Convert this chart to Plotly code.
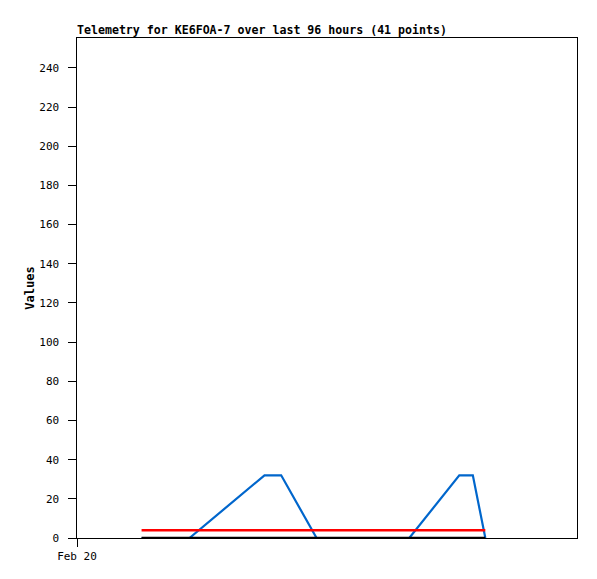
import plotly.graph_objects as go

# x values in hours after Feb 20 00:00
t_blue = [3.1, 5.4, 9.0, 9.8, 11.5, 15.95, 18.35, 19.0, 19.6]
v_blue = [0, 0, 32, 32, 0, 0, 32, 32, 0]
t_red = [3.1, 19.6]
v_red = [4, 4]
t_black = [3.1, 19.6]
v_black = [0, 0]
y_ticks = list(range(0, 241, 20))
x_tickvals = [0]
x_ticktext = ["Feb 20"]

fig = go.Figure()
fig.add_trace(go.Scatter(x=t_blue, y=v_blue, mode="lines",
                         line=dict(color="#0066cc", width=2.2), showlegend=False))
fig.add_trace(go.Scatter(x=t_red, y=v_red, mode="lines",
                         line=dict(color="#ff0000", width=2.5), showlegend=False))
fig.add_trace(go.Scatter(x=t_black, y=v_black, mode="lines",
                         line=dict(color="#000000", width=2.5), showlegend=False))

W, H = 589, 571
fig.update_layout(
    width=W, height=H,
    margin=dict(l=69, r=20, t=30, b=41),
    paper_bgcolor="white", plot_bgcolor="white",
    font=dict(family="DejaVu Sans Mono", size=11, color="black"),
    title=dict(text="<b>Telemetry for KE6FOA-7 over last 96 hours (41 points)</b>",
               x=69/W, xanchor="left", y=1-26/H, yanchor="bottom",
               font=dict(family="DejaVu Sans Mono", size=11.6)),
    xaxis=dict(range=[0, 24], tickvals=x_tickvals, ticktext=x_ticktext,
               showgrid=False, zeroline=False, showline=True, linecolor="black",
               linewidth=1, mirror=True, ticks="outside", ticklen=8,
               tickwidth=1.3, tickcolor="black", tickfont=dict(size=11)),
    yaxis=dict(range=[0, 255.3], tickvals=y_ticks,
               ticktext=[f"{v}\u00a0" for v in y_ticks], showgrid=False,
               zeroline=False, showline=True, linecolor="black", linewidth=1,
               mirror=True, ticks="outside", ticklen=8, tickwidth=1.3,
               tickcolor="black", tickfont=dict(size=11),
               title=dict(text="<b>Values</b>", standoff=2,
                          font=dict(family="DejaVu Sans Mono", size=12))),
)

fig.write_html("out.html")
